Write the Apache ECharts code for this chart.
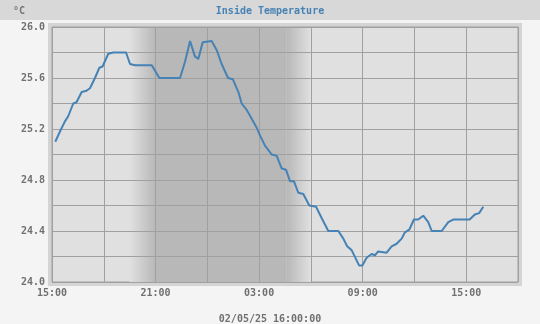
<!DOCTYPE html>
<html>
<head>
<meta charset="utf-8">
<script src="https://cdn.jsdelivr.net/npm/echarts@6/dist/echarts.min.js"></script>
<style>
html,body{margin:0;padding:0;background:#f4f4f4;}
#c{width:540px;height:324px;}
</style>
</head>
<body>
<div id="c"></div>
<script>
// hours since 15:00 (02/04/25)
var hours = [0.19,0.46,0.75,0.94,1.23,1.42,1.72,2.0,2.2,2.49,2.74,2.93,3.26,3.55,4.29,4.52,4.81,5.78,6.22,7.42,7.71,8.0,8.28,8.48,8.73,9.25,9.54,9.83,10.2,10.48,10.8,10.99,11.28,11.57,11.86,12.05,12.34,12.73,13.02,13.31,13.56,13.79,14.02,14.27,14.56,14.91,15.3,15.63,16.01,16.59,16.88,17.1,17.36,17.79,17.98,18.23,18.52,18.71,18.9,19.39,19.68,19.97,20.26,20.45,20.7,20.97,21.22,21.51,21.8,22.0,22.58,22.96,23.25,24.2,24.5,24.75,24.99];
var temps = [25.10,25.18,25.26,25.30,25.40,25.41,25.49,25.50,25.52,25.60,25.68,25.69,25.79,25.80,25.80,25.71,25.70,25.70,25.60,25.60,25.73,25.89,25.77,25.75,25.88,25.89,25.82,25.71,25.60,25.59,25.49,25.40,25.35,25.28,25.21,25.15,25.07,25.00,24.99,24.89,24.88,24.79,24.79,24.70,24.69,24.60,24.59,24.50,24.40,24.40,24.34,24.28,24.25,24.13,24.13,24.19,24.22,24.21,24.24,24.23,24.28,24.30,24.34,24.39,24.41,24.49,24.49,24.52,24.47,24.40,24.40,24.47,24.49,24.49,24.53,24.54,24.59];
var xTickLabels = ['15:00','','21:00','','03:00','','09:00','','15:00',''];
var yTickLabels = ['24.0','24.4','24.8','25.2','25.6','26.0'];
// night shading (hours since start): fade in, dark, fade out
var nightFadeIn = [4.5, 6.0];
var nightDark = [6.0, 13.6];
var nightFadeOut = [13.6, 15.0];

var lightCol = '#e0e0e0', darkCol = '#b8b8b8';
var data = hours.map(function(h,i){return [h,temps[i]];});
var font = 'DejaVu Sans Mono';
var chart = echarts.init(document.getElementById('c'));
chart.setOption({
  backgroundColor:'#f4f4f4',
  animation:false,
  graphic:[
    {type:'rect', z:-10, shape:{x:0,y:0,width:540,height:20}, style:{fill:'#d8d8d8'}},
    {type:'rect', z:-10, shape:{x:48,y:23,width:474,height:263}, style:{fill:'#d4d4d4'}}
  ],
  title:[
    {text:'Inside Temperature', left:'center', top:1, textStyle:{color:'#4682b4', fontFamily:font, fontSize:10, fontWeight:'bold'}},
    {text:'°C', left:8, top:1, textStyle:{color:'#777', fontFamily:font, fontSize:10, fontWeight:'bold'}},
    {text:'02/05/25 16:00:00', left:'center', top:309, textStyle:{color:'#707070', fontFamily:font, fontSize:10, fontWeight:'bold'}}
  ],
  grid:{left:52, right:22, top:27, bottom:42, show:true, backgroundColor:lightCol, borderColor:'#a0a0a0', borderWidth:1},
  xAxis:{type:'value', min:0, max:27, interval:3, z:3,
    axisLine:{show:false}, axisTick:{show:false},
    splitLine:{show:true, lineStyle:{color:'#a0a0a0', width:1}},
    axisLabel:{margin:6, color:'#707070', fontFamily:font, fontSize:10, fontWeight:'bold',
      formatter:function(v){var i=Math.round(v/3); return xTickLabels[i]||'';}}},
  yAxis:{type:'value', min:24, max:26, interval:0.2, z:3,
    axisLine:{show:false}, axisTick:{show:false},
    splitLine:{show:true, lineStyle:{color:'#a0a0a0', width:1}},
    axisLabel:{margin:7, color:'#707070', fontFamily:font, fontSize:10, fontWeight:'bold',
      formatter:function(v){var s=v.toFixed(1); return yTickLabels.indexOf(s)>=0?s:'';}}},
  series:[
    {type:'line', z:1, data:[], silent:true,
      markArea:{silent:true, z:1, data:[
        [{xAxis:nightFadeIn[0], itemStyle:{color:{type:'linear',x:0,y:0,x2:1,y2:0,colorStops:[{offset:0,color:lightCol},{offset:1,color:darkCol}]}}},{xAxis:nightFadeIn[1]}],
        [{xAxis:nightDark[0], itemStyle:{color:darkCol}},{xAxis:nightDark[1]}],
        [{xAxis:nightFadeOut[0], itemStyle:{color:{type:'linear',x:0,y:0,x2:1,y2:0,colorStops:[{offset:0,color:darkCol},{offset:1,color:lightCol}]}}},{xAxis:nightFadeOut[1]}]
      ]}},
    {type:'line', z:5, data:data, showSymbol:false, lineStyle:{color:'#4682b4', width:2}, itemStyle:{color:'#4682b4'}}
  ]
});
</script>
</body>
</html>
